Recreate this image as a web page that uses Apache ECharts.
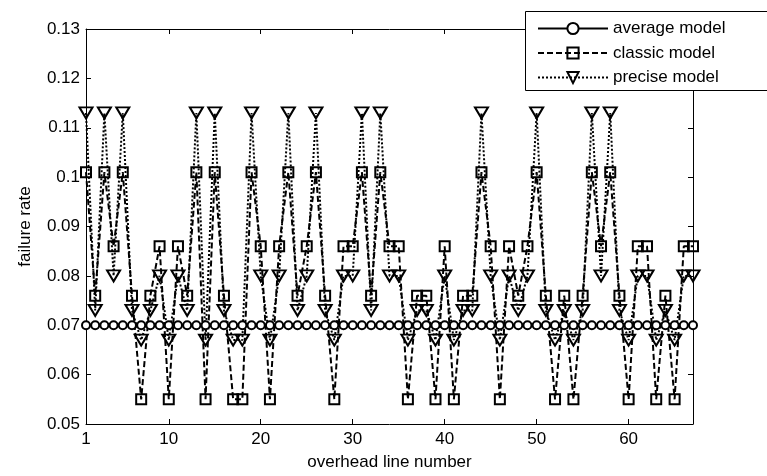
<!DOCTYPE html>
<html>
<head>
<meta charset="utf-8">
<script src="https://cdn.jsdelivr.net/npm/echarts@6/dist/echarts.min.js"></script>
<style>
html,body{margin:0;padding:0;background:#fff;}
#chart{width:767px;height:476px;}
</style>
</head>
<body>
<div id="chart"></div>
<script>
// overhead line numbers 1..67
const xTicks = [1, 10, 20, 30, 40, 50, 60]
const yTicks = [0.05, 0.06, 0.07, 0.08, 0.09, 0.1, 0.11, 0.12, 0.13]

const averageModel = [
  0.07,0.07,0.07,0.07,0.07,0.07,0.07,0.07,0.07,0.07,
  0.07,0.07,0.07,0.07,0.07,0.07,0.07,0.07,0.07,0.07,
  0.07,0.07,0.07,0.07,0.07,0.07,0.07,0.07,0.07,0.07,
  0.07,0.07,0.07,0.07,0.07,0.07,0.07,0.07,0.07,0.07,
  0.07,0.07,0.07,0.07,0.07,0.07,0.07,0.07,0.07,0.07,
  0.07,0.07,0.07,0.07,0.07,0.07,0.07,0.07,0.07,0.07,
  0.07,0.07,0.07,0.07,0.07,0.07,0.07
]
const classicModel = [
  0.101,0.076,0.101,0.086,0.101,0.076,0.055,0.076,0.086,0.055,
  0.086,0.076,0.101,0.055,0.101,0.076,0.055,0.055,0.101,0.086,
  0.055,0.086,0.101,0.076,0.086,0.101,0.076,0.055,0.086,0.086,
  0.101,0.076,0.101,0.086,0.086,0.055,0.076,0.076,0.055,0.086,
  0.055,0.076,0.076,0.101,0.086,0.055,0.086,0.076,0.086,0.101,
  0.076,0.055,0.076,0.055,0.076,0.101,0.086,0.101,0.076,0.055,
  0.086,0.086,0.055,0.076,0.055,0.086,0.086
]
const preciseModel = [
  0.113,0.073,0.113,0.080,0.113,0.073,0.067,0.073,0.080,0.067,
  0.080,0.073,0.113,0.067,0.113,0.073,0.067,0.067,0.113,0.080,
  0.067,0.080,0.113,0.073,0.080,0.113,0.073,0.067,0.080,0.080,
  0.113,0.073,0.113,0.080,0.080,0.067,0.073,0.073,0.067,0.080,
  0.067,0.073,0.073,0.113,0.080,0.067,0.080,0.073,0.080,0.113,
  0.073,0.067,0.073,0.067,0.073,0.113,0.080,0.113,0.073,0.067,
  0.080,0.080,0.067,0.073,0.067,0.080,0.080
]

const FONT = 'Arial, "Liberation Sans", sans-serif'
const FS = 17
const toXY = arr => arr.map((v, i) => [i + 1, v])

const chart = echarts.init(document.getElementById('chart'))

// axes that only carry inside ticks (box on, like matlab)
const tickOnlyX = {
  type: 'value', min: 1, max: 67, position: 'top',
  axisLine: {show: true, lineStyle: {color: '#000', width: 1}},
  axisTick: {show: true, inside: true, length: 5, customValues: xTicks, lineStyle: {color: '#000'}},
  axisLabel: {show: false},
  splitLine: {show: false}
}
const tickOnlyY = {
  type: 'value', min: 0.05, max: 0.13, interval: 0.01, position: 'right',
  axisLine: {show: true, lineStyle: {color: '#000', width: 1}},
  axisTick: {show: true, inside: true, length: 5, lineStyle: {color: '#000'}},
  axisLabel: {show: false},
  splitLine: {show: false}
}

const option = {
  animation: false,
  backgroundColor: '#fff',
  textStyle: {fontFamily: FONT},
  grid: {left: 86, right: 74, top: 29, bottom: 49, show: false},
  // legend frame runs off the right edge in the original
  graphic: [{
    type: 'rect', z: 3,
    shape: {x: 525.5, y: 11.5, width: 300, height: 79},
    style: {fill: '#fff', stroke: '#000', lineWidth: 1}
  }],
  legend: {
    orient: 'vertical',
    left: 525, top: 11,
    padding: [9, 10, 6, 12],
    itemWidth: 70, itemHeight: 14, itemGap: 7.5, itemTextGap: 10,
    textStyle: {fontFamily: FONT, fontSize: FS, color: '#000'},
    data: ['average model', 'classic model', 'precise model']
  },
  xAxis: [{
    type: 'value', min: 1, max: 67, position: 'bottom',
    name: 'overhead line number', nameLocation: 'middle', nameGap: 30,
    nameTextStyle: {fontFamily: FONT, fontSize: FS, color: '#000'},
    axisLine: {show: true, lineStyle: {color: '#000', width: 1}},
    axisTick: {show: true, inside: true, length: 5, customValues: xTicks, lineStyle: {color: '#000'}},
    axisLabel: {customValues: xTicks, margin: 7, fontFamily: FONT, fontSize: FS, color: '#000'},
    splitLine: {show: false}
  }, tickOnlyX],
  yAxis: [{
    type: 'value', min: 0.05, max: 0.13, interval: 0.01, position: 'left',
    name: 'failure rate', nameLocation: 'middle', nameGap: 52,
    nameTextStyle: {fontFamily: FONT, fontSize: FS, color: '#000'},
    axisLine: {show: true, lineStyle: {color: '#000', width: 1}},
    axisTick: {show: true, inside: true, length: 5, lineStyle: {color: '#000'}},
    axisLabel: {
      margin: 6, fontFamily: FONT, fontSize: FS, color: '#000',
      formatter: v => String(parseFloat(v.toFixed(2)))
    },
    splitLine: {show: false}
  }, tickOnlyY],
  series: [
    {
      name: 'average model', type: 'line', data: toXY(averageModel),
      symbol: 'circle', symbolSize: 8,
      lineStyle: {color: '#000', width: 2, type: 'solid'},
      itemStyle: {color: '#fff', borderColor: '#000', borderWidth: 2}
    },
    {
      name: 'classic model', type: 'line', data: toXY(classicModel),
      symbol: 'rect', symbolSize: 10,
      lineStyle: {color: '#000', width: 2, type: [6, 3]},
      itemStyle: {color: 'rgba(255,255,255,0)', borderColor: '#000', borderWidth: 2}
    },
    {
      name: 'precise model', type: 'line', data: toXY(preciseModel),
      symbol: 'triangle', symbolRotate: 180, symbolSize: [13, 11],
      lineStyle: {color: '#000', width: 2, type: [2, 2]},
      itemStyle: {color: 'rgba(255,255,255,0)', borderColor: '#000', borderWidth: 2}
    }
  ]
}
chart.setOption(option)
</script>
</body>
</html>
